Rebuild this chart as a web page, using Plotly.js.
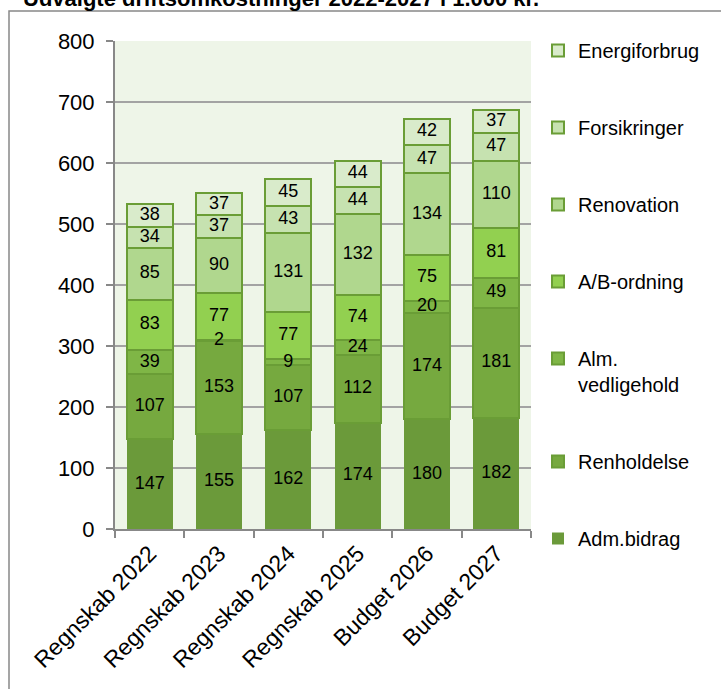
<!DOCTYPE html>
<html>
<head>
<meta charset="utf-8">
<script src="https://cdn.plot.ly/plotly-3.0.1.min.js"></script>
<style>html,body{margin:0;padding:0;background:#fff;}#chart{width:721px;height:689px;}</style>
</head>
<body>
<div id="chart"></div>
<script>
const categories = ["Regnskab 2022", "Regnskab 2023", "Regnskab 2024", "Regnskab 2025", "Budget 2026", "Budget 2027"];
const admBidrag = [147, 155, 162, 174, 180, 182];
const renholdelse = [107, 153, 107, 112, 174, 181];
const almVedligehold = [39, 2, 9, 24, 20, 49];
const abOrdning = [83, 77, 77, 74, 75, 81];
const renovation = [85, 90, 131, 132, 134, 110];
const forsikringer = [34, 37, 43, 44, 47, 47];
const energiforbrug = [38, 37, 45, 44, 42, 37];
const seriesNames = ["Adm.bidrag", "Renholdelse", "Alm.<br>vedligehold", "A/B-ordning", "Renovation", "Forsikringer", "Energiforbrug"];
const seriesValues = [admBidrag, renholdelse, almVedligehold, abOrdning, renovation, forsikringer, energiforbrug];
const seriesColors = ["#6b9a3a", "#76a93f", "#7fb646", "#92d050", "#b0d78e", "#c6e2b0", "#d9ebcb"];
const yTicks = [0, 100, 200, 300, 400, 500, 600, 700, 800];

const FONT = "Liberation Sans, Arial, sans-serif";

const barTraces = seriesValues.map((vals, i) => ({
  type: "bar",
  name: seriesNames[i],
  x: categories,
  y: vals,
  marker: {color: seriesColors[i], line: {color: "#6a9d36", width: i === 0 ? 0 : 2}},
  legendgroup: "g" + i,
  legendrank: seriesValues.length - i,
  hoverinfo: "none"
}));

// value labels: centred in each stacked segment, drawn above all bars
const base = categories.map(() => 0);
const labelTraces = seriesValues.map((vals, i) => {
  const mids = vals.map((v, j) => base[j] + v / 2);
  vals.forEach((v, j) => { base[j] += v; });
  return {
    type: "scatter", mode: "text",
    x: categories, y: mids,
    text: vals.map(String),
    textposition: "middle center",
    textfont: {family: FONT, size: 18, color: "#000"},
    showlegend: false, hoverinfo: "none", cliponaxis: false
  };
});

const L = 115, R = 190, T = 41, B = 160, W = 721, H = 689;
const pw = W - L - R, ph = H - T - B;
const px = v => (v - L) / pw;
const py = v => (H - B - v) / ph;

const layout = {
  width: W, height: H,
  margin: {l: L, r: R, t: T, b: B, pad: 0},
  paper_bgcolor: "#ffffff",
  plot_bgcolor: "#eef5e8",
  barmode: "stack",
  bargap: 0.335,
  font: {family: FONT, color: "#000"},
  xaxis: {
    type: "category",
    tickangle: -45,
    tickfont: {family: FONT, size: 23, color: "#000"},
    ticks: "outside", tickson: "boundaries", ticklen: 7, tickcolor: "#888", tickwidth: 2,
    showline: true, linecolor: "#888", linewidth: 2,
    showgrid: false, fixedrange: true
  },
  yaxis: {
    range: [0, 800],
    tickvals: yTicks,
    tickfont: {family: FONT, size: 22, color: "#000"},
    ticks: "outside", ticklen: 7, tickcolor: "#888", tickwidth: 2,
    ticklabelstandoff: 7,
    showline: true, linecolor: "#888", linewidth: 2,
    showgrid: true, gridcolor: "#a3a3a3", gridwidth: 2,
    zeroline: false, fixedrange: true
  },
  showlegend: true,
  legend: {
    x: px(538), y: py(31), xanchor: "left", yanchor: "top",
    traceorder: "grouped",
    tracegroupgap: 48,
    valign: "top",
    itemwidth: 30,
    maxheight: 1,
    font: {family: FONT, size: 20, color: "#000"},
    bgcolor: "rgba(0,0,0,0)"
  },
  shapes: [{
    type: "rect", xref: "paper", yref: "paper",
    x0: px(9), x1: px(730), y0: py(700), y1: py(11),
    line: {color: "#888", width: 1.5}, fillcolor: "rgba(0,0,0,0)", layer: "below"
  }],
  annotations: [{
    text: "<b>Udvalgte driftsomkostninger 2022-2027 i 1.000 kr.</b>",
    xref: "paper", yref: "paper",
    x: px(22), y: py(12), xanchor: "left", yanchor: "bottom",
    showarrow: false, borderpad: 0,
    font: {family: FONT, size: 22, color: "#000"}
  }]
};

Plotly.newPlot("chart", barTraces.concat(labelTraces), layout, {displayModeBar: false, staticPlot: true});
</script>
</body>
</html>
